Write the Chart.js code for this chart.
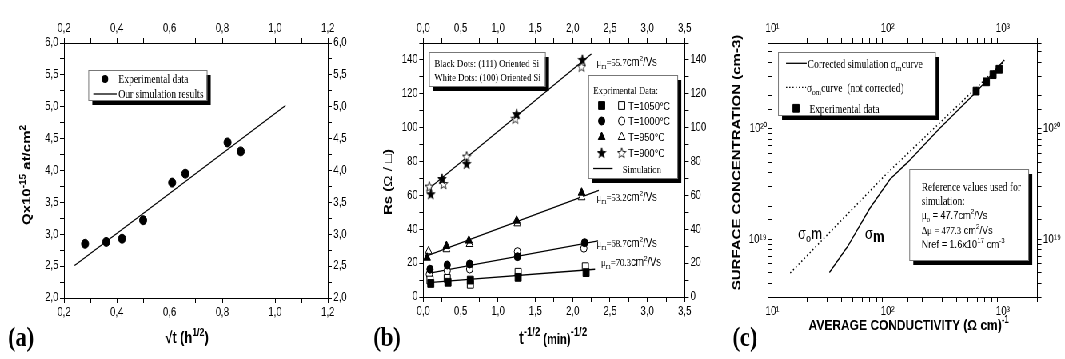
<!DOCTYPE html>
<html>
<head>
<meta charset="utf-8">
<script src="https://cdn.jsdelivr.net/npm/chart.js@4.4.0/dist/chart.umd.min.js"></script>
<style>
  html, body { margin: 0; padding: 0; background: #fff; overflow: hidden; }
  #fig { position: absolute; left: 0; top: 0; width: 1332px; height: 359px; transform: scaleX(0.79955); transform-origin: 0 0; }
  .panel { position: absolute; top: 0; width: 444px; height: 359px; }
</style>
</head>
<body>
<div id="fig">
  <div class="panel" style="left:0"><canvas id="ca"></canvas></div>
  <div class="panel" style="left:444px"><canvas id="cb"></canvas></div>
  <div class="panel" style="left:888px"><canvas id="cc"></canvas></div>
</div>
<script>
// ---- (a) dose vs sqrt(t)
const sqrtT = [0.28, 0.36, 0.42, 0.50, 0.61, 0.66, 0.82, 0.87];
const qDose = [2.85, 2.88, 2.93, 3.22, 3.81, 3.95, 4.44, 4.30];
const simSqrtT = [0.24, 1.04];
const simQ = [2.51, 5.02];

// ---- (b) sheet resistance, order: 1050, 1000, 950, 900 C
const tempLabels = ['T=1050°C', 'T=1000°C', 'T=950°C', 'T=900°C'];
const x111 = [
  [0.10, 0.33, 0.63, 1.27, 2.18],
  [0.09, 0.32, 0.62, 1.26, 2.16],
  [0.05, 0.31, 0.61, 1.25, 2.12],
  [0.10, 0.25, 0.58, 1.25, 2.13]
];
const rs111 = [
  [8.0, 8.7, 10.0, 11.6, 14.4],
  [16.4, 18.9, 19.5, 23.8, 32.1],
  [23.2, 30.1, 33.3, 45.1, 61.6],
  [60.7, 69.7, 78.6, 108.0, 140.0]
];
const x100 = [
  [0.09, 0.32, 0.63, 1.27, 2.17],
  [0.08, 0.32, 0.62, 1.26, 2.15],
  [0.07, 0.31, 0.62, 1.26, 2.12],
  [0.08, 0.27, 0.58, 1.23, 2.12]
];
const rs100 = [
  [10.0, 11.0, 7.5, 14.6, 17.9],
  [13.4, 15.5, 16.5, 26.8, 28.8],
  [27.0, 28.2, 31.3, 43.5, 58.9],
  [65.2, 66.7, 82.9, 105.3, 136.0]
];
const simX = [[0.07, 2.30], [0.07, 2.34], [0.03, 2.35], [0.09, 2.25]];
const simRs = [[8.5, 16.4], [14.0, 33.1], [24.0, 63.0], [64.5, 143.5]];
const muValues = ['70.3', '68.7', '53.2', '55.7'];

// ---- (c) surface concentration vs average conductivity
const sigmaExp = [588, 721, 824, 931];
const concExp = [2.2e20, 2.67e20, 3.1e20, 3.47e20];
const sigmaCorr = [31.3, 45, 70, 105, 150, 280, 600, 1030];
const concCorr = [5.0e18, 8.6e18, 1.9e19, 3.5e19, 5.0e19, 1.0e20, 2.2e20, 4.2e20];
const sigmaO = [14.3, 100, 1040];
const concO = [4.95e18, 4.0e19, 4.15e20];

const S = 1065 / 1332;
const SANS = '"Liberation Sans", Arial, sans-serif';
const SERIF = '"Liberation Serif", "Times New Roman", serif';
const f = (size, fam, bold) => (bold ? 'bold ' : '') + size + 'px ' + fam;

Chart.defaults.font.family = SANS;
Chart.defaults.color = '#000';

const xy = (xs, ys) => xs.map((x, i) => ({x: x, y: ys[i]}));

const comma = (v, d) => v.toFixed(d).replace('.', ',');
const every = (v, step) => Math.abs(v / step - Math.round(v / step)) < 1e-6;
const SUP = {'0': '⁰', '1': '¹', '2': '²', '3': '³', '4': '⁴', '5': '⁵', '6': '⁶', '7': '⁷', '8': '⁸', '9': '⁹'};
const powLabel = v => {
  let e = Math.log10(v);
  if (Math.abs(e - Math.round(e)) > 1e-6) return '';
  return '10' + String(Math.round(e)).split('').map(c => SUP[c]).join('');
};

let axis = (id, pos, type, min, max, step, fmt, size) => {
  let vertical = pos === 'left' || pos === 'right';
  let o = {
    type: type, axis: vertical ? 'y' : 'x', position: pos, min: min, max: max,
    border: {display: true, color: '#000', width: 1},
    grid: {drawOnChartArea: false, drawTicks: true, tickLength: 5, color: '#000', tickColor: '#000'},
    ticks: {color: '#000', font: {size: 12}, padding: 2, autoSkip: false, maxRotation: 0, minRotation: 0, callback: fmt},
    afterFit: s => { if (vertical) s.width = size; else s.height = size; }
  };
  if (step) o.ticks.stepSize = step;
  return o;
};

// text made of runs: [text, font, dy]
let runs = (ctx, x, y, parts, align, rot) => {
  ctx.save();
  ctx.translate(x, y);
  if (rot) ctx.rotate(rot);
  let w = 0;
  parts.forEach(p => { ctx.font = p[1]; w += ctx.measureText(p[0]).width; });
  let cx = align === 'center' ? -w / 2 : 0;
  ctx.fillStyle = '#000';
  ctx.textBaseline = 'alphabetic';
  ctx.textAlign = 'left';
  parts.forEach(p => {
    ctx.font = p[1];
    ctx.fillText(p[0], cx, p[2] || 0);
    cx += ctx.measureText(p[0]).width;
  });
  ctx.restore();
};

let shadowBox = (ctx, x1, y1, x2, y2) => {
  ctx.save();
  ctx.fillStyle = '#000';
  ctx.fillRect(x1 + 5, y1 + 5, x2 - x1, y2 - y1);
  ctx.fillStyle = '#fff';
  ctx.fillRect(x1, y1, x2 - x1, y2 - y1);
  ctx.strokeStyle = '#777';
  ctx.lineWidth = 1;
  ctx.strokeRect(x1 + 0.5, y1 + 0.5, x2 - x1, y2 - y1);
  ctx.restore();
};

let seg = (ctx, x1, y1, x2, y2, dash) => {
  ctx.save();
  ctx.strokeStyle = '#000';
  ctx.lineWidth = 1.3;
  if (dash) ctx.setLineDash(dash);
  ctx.beginPath();
  ctx.moveTo(x1, y1);
  ctx.lineTo(x2, y2);
  ctx.stroke();
  ctx.restore();
};

let makeStar = (fill) => {
  let c = document.createElement('canvas');
  c.width = 12; c.height = 12;
  let g = c.getContext('2d');
  g.beginPath();
  for (let i = 0; i < 10; i++) {
    let r = i % 2 === 0 ? 5.5 : 2.3;
    let a = -Math.PI / 2 + i * Math.PI / 5;
    g.lineTo(6 + r * Math.cos(a), 6.3 + r * Math.sin(a));
  }
  g.closePath();
  g.fillStyle = fill;
  g.fill();
  g.strokeStyle = '#000';
  g.lineWidth = 0.9;
  g.stroke();
  return c;
};
const starB = makeStar('#000');
const starW = makeStar('#fff');

let mark = (ctx, style, x, y, fill) => {
  if (typeof style === 'object') { ctx.drawImage(style, x - style.width / 2, y - style.height / 2); return; }
  ctx.save();
  ctx.fillStyle = fill;
  ctx.strokeStyle = '#000';
  ctx.lineWidth = 1;
  ctx.beginPath();
  if (style === 'rect') ctx.rect(x - 3.9, y - 3.9, 7.8, 7.8);
  else if (style === 'circle') ctx.arc(x, y, 4, 0, 2 * Math.PI);
  else {
    ctx.moveTo(x, y - 5);
    ctx.lineTo(x + 4.33, y + 2.5);
    ctx.lineTo(x - 4.33, y + 2.5);
    ctx.closePath();
  }
  ctx.fill();
  ctx.stroke();
  ctx.restore();
};

const baseOptions = () => ({
  responsive: true,
  maintainAspectRatio: false,
  animation: false,
  events: [],
  layout: {padding: 0},
  plugins: {legend: {display: false}, tooltip: {enabled: false}}
});

// ---------------- (a)
let decorA = {
  id: 'decorA',
  afterDraw: chart => {
    let ctx = chart.ctx;
    let X = r => r / S;
    shadowBox(ctx, X(88.3), 70, X(206.7), 100);
    ctx.save();
    ctx.fillStyle = '#000';
    ctx.beginPath();
    ctx.arc(X(105), 79, 4, 0, 2 * Math.PI);
    ctx.fill();
    ctx.restore();
    runs(ctx, X(118.3), 83, [['Experimental data', f(12, SERIF)]]);
    seg(ctx, X(93.3), 94, X(116.7), 94);
    runs(ctx, X(118.3), 98, [['Our simulation results', f(12, SERIF)]]);
    runs(ctx, X(30), 175, [['Qx10', f(15, SANS, true)], ['-15', f(10, SANS, true), -6], [' at/cm', f(15, SANS, true)], ['2', f(10, SANS, true), -6]], 'center', -Math.PI / 2);
    runs(ctx, X(187), 343, [['√t (h', f(16, SANS, true)], ['1/2', f(11, SANS, true), -7], [')', f(16, SANS, true)]], 'center');
    runs(ctx, X(21), 346, [['(a)', f(28, SERIF, true)]], 'center');
  }
};

let optA = baseOptions();
optA.scales = {
  x: axis('x', 'bottom', 'linear', 0.2, 1.2, 0.1, v => every(v, 0.2) ? comma(v, 1) : '', 61),
  x2: axis('x2', 'top', 'linear', 0.2, 1.2, 0.1, v => every(v, 0.2) ? comma(v, 1) : '', 43),
  y: axis('y', 'left', 'linear', 2, 6, 0.25, v => every(v, 0.5) ? comma(v, 1) : '', 80),
  y2: axis('y2', 'right', 'linear', 2, 6, 0.25, v => every(v, 0.5) ? comma(v, 1) : '', 34)
};

new Chart(document.getElementById('ca'), {
  type: 'scatter',
  data: {
    datasets: [
      {data: xy(sqrtT, qDose), pointStyle: 'circle', pointRadius: 4.5, backgroundColor: '#000', borderColor: '#000', order: 0},
      {data: xy(simSqrtT, simQ), showLine: true, pointRadius: 0, borderColor: '#000', borderWidth: 1.3, order: 1}
    ]
  },
  options: optA,
  plugins: [decorA]
});

// ---------------- (b)
const blackStyles = ['rect', 'circle', 'triangle', starB];
const whiteStyles = ['rect', 'circle', 'triangle', starW];
const radii = [5.5, 4, 5, 5];

let bSets = [];
for (let i = 0; i < 4; i++) {
  bSets.push({data: xy(x111[i], rs111[i]), pointStyle: blackStyles[i], pointRadius: radii[i], backgroundColor: '#000', borderColor: '#000', borderWidth: 1, order: 0});
  bSets.push({data: xy(x100[i], rs100[i]), pointStyle: whiteStyles[i], pointRadius: radii[i], backgroundColor: '#fff', borderColor: '#000', borderWidth: 1, order: 0});
  bSets.push({data: xy(simX[i], simRs[i]), showLine: true, pointRadius: 0, borderColor: '#000', borderWidth: 1.3, order: 1});
}

let decorB = {
  id: 'decorB',
  afterDraw: chart => {
    let ctx = chart.ctx;
    let X = r => (r - 355) / S;
    shadowBox(ctx, X(429), 52, X(545), 86);
    runs(ctx, X(434.3), 67, [['Black Dots: (111) Oriented Si', f(11, SERIF)]]);
    runs(ctx, X(434.3), 81, [['White Dots: (100) Oriented Si', f(11, SERIF)]]);

    shadowBox(ctx, X(588.3), 75, X(677.3), 178);
    runs(ctx, X(593.3), 94, [['Exprimental Data:', f(11, SERIF)]]);
    let rowY = [105.5, 121, 137, 153];
    for (let i = 0; i < 4; i++) {
      mark(ctx, blackStyles[i], X(601.7), rowY[i], '#000');
      mark(ctx, whiteStyles[i], X(621.7), rowY[i], '#fff');
      runs(ctx, X(628.3), rowY[i] + 4, [[tempLabels[i], f(11.5, SANS)]]);
    }
    seg(ctx, X(593.3), 168.5, X(612.7), 168.5);
    runs(ctx, X(622.7), 172.5, [['Simulation', f(11, SERIF)]]);

    let muPos = [[601, 265.5], [596.7, 246.5], [596.7, 200.5], [596.7, 65.5]];
    for (let i = 0; i < 4; i++) {
      runs(ctx, X(muPos[i][0]), muPos[i][1], [
        ['μ', f(11, SERIF)], ['m', f(8, SERIF), 3], ['=' + muValues[i], f(11, SERIF)],
        ['cm', f(12, SANS)], ['2', f(8, SANS), -5], ['/Vs', f(12, SANS)]
      ]);
    }
    runs(ctx, X(392), 182, [['Rs (', f(15, SANS, true)], ['Ω / □', f(15, SANS)], [')', f(15, SANS, true)]], 'center', -Math.PI / 2);
    runs(ctx, X(553), 344, [['t', f(18, SANS, true)], ['-1/2', f(12, SANS, true), -8], [' (min)', f(14, SANS, true)], ['-1/2', f(12, SANS, true), -8]], 'center');
    runs(ctx, X(387), 346, [['(b)', f(28, SERIF, true)]], 'center');
  }
};

let optB = baseOptions();
optB.scales = {
  x: axis('x', 'bottom', 'linear', 0, 3.5, 0.25, v => every(v, 0.5) ? comma(v, 1) : '', 62),
  x2: axis('x2', 'top', 'linear', 0, 3.5, 0.25, v => every(v, 0.5) ? comma(v, 1) : '', 43),
  y: axis('y', 'left', 'linear', 0, 150, 10, v => (every(v, 20) && v <= 140) ? String(v) : '', 85.4),
  y2: axis('y2', 'right', 'linear', 0, 150, 10, v => (every(v, 20) && v <= 140) ? String(v) : '', 31.6)
};

new Chart(document.getElementById('cb'), {
  type: 'scatter',
  data: {datasets: bSets},
  options: optB,
  plugins: [decorB]
});

// ---------------- (c)
let decorC = {
  id: 'decorC',
  afterDraw: chart => {
    let ctx = chart.ctx;
    let X = r => (r - 710) / S;
    shadowBox(ctx, X(778), 52, X(935), 115);
    seg(ctx, X(786), 63.3, X(806.7), 63.3);
    runs(ctx, X(807.5), 67.5, [['Corrected simulation σ', f(12, SERIF)], ['m', f(9, SERIF), 3], ['curve', f(12, SERIF)]]);
    seg(ctx, X(786), 87.3, X(806), 87.3, [1.5, 2.5]);
    runs(ctx, X(806.7), 91.5, [['σ', f(12, SERIF)], ['om', f(9, SERIF), 3], ['curve  (not corrected)', f(12, SERIF)]]);
    mark(ctx, 'rect', X(796), 108.3, '#000');
    runs(ctx, X(809.3), 112.5, [['Experimental data', f(12, SERIF)]]);

    shadowBox(ctx, X(909.3), 169, X(1028.3), 260);
    runs(ctx, X(921.7), 191, [['Reference values used for', f(12, SERIF)]]);
    runs(ctx, X(921.7), 204.5, [['simulation:', f(12, SERIF)]]);
    runs(ctx, X(921.7), 219, [['μ', f(12, SERIF)], ['o', f(8, SERIF), 3], [' = 47.7cm', f(11.5, SANS)], ['2', f(8, SANS), -5], ['/Vs', f(11.5, SANS)]]);
    runs(ctx, X(921.7), 234, [['Δμ = 477.3', f(11, SERIF)], [' cm', f(11.5, SANS)], ['2', f(8, SANS), -5], ['/Vs', f(11.5, SANS)]]);
    runs(ctx, X(921.7), 247.5, [['Nref = 1.6x10', f(11.5, SANS)], ['17', f(8, SANS), -5], [' cm', f(11.5, SANS)], ['-3', f(8, SANS), -5]]);

    runs(ctx, X(798), 239, [['σ', f(16, SANS)], ['o', f(11, SANS), 3], ['m', f(16, SANS, true)]]);
    runs(ctx, X(865), 239, [['σ', f(16, SANS)], ['m', f(16, SANS, true), 3]]);

    runs(ctx, X(740), 162.5, [['SURFACE CONCENTRATION (cm-3)', f(15, SANS, true)]], 'center', -Math.PI / 2);
    runs(ctx, X(908.7), 330, [['AVERAGE CONDUCTIVITY (Ω cm)', f(15, SANS, true)], ['-1', f(10, SANS, true), -7]], 'center');
    runs(ctx, X(745), 346, [['(c)', f(28, SERIF, true)]], 'center');
  }
};

let optC = baseOptions();
optC.scales = {
  x: axis('x', 'bottom', 'logarithmic', 10, 2000, null, powLabel, 62),
  x2: axis('x2', 'top', 'logarithmic', 10, 2000, null, powLabel, 43),
  y: axis('y', 'left', 'logarithmic', 3e18, 6e20, null, powLabel, 77.9),
  y2: axis('y2', 'right', 'logarithmic', 3e18, 6e20, null, powLabel, 34.4)
};

new Chart(document.getElementById('cc'), {
  type: 'scatter',
  data: {
    datasets: [
      {data: xy(sigmaExp, concExp), pointStyle: 'rect', pointRadius: 5.5, backgroundColor: '#000', borderColor: '#000', order: 0},
      {data: xy(sigmaCorr, concCorr), showLine: true, pointRadius: 0, borderColor: '#000', borderWidth: 1.3, order: 1},
      {data: xy(sigmaO, concO), showLine: true, pointRadius: 0, borderColor: '#000', borderWidth: 1.5, borderDash: [1.5, 3], order: 1}
    ]
  },
  options: optC,
  plugins: [decorC]
});
</script>
</body>
</html>
